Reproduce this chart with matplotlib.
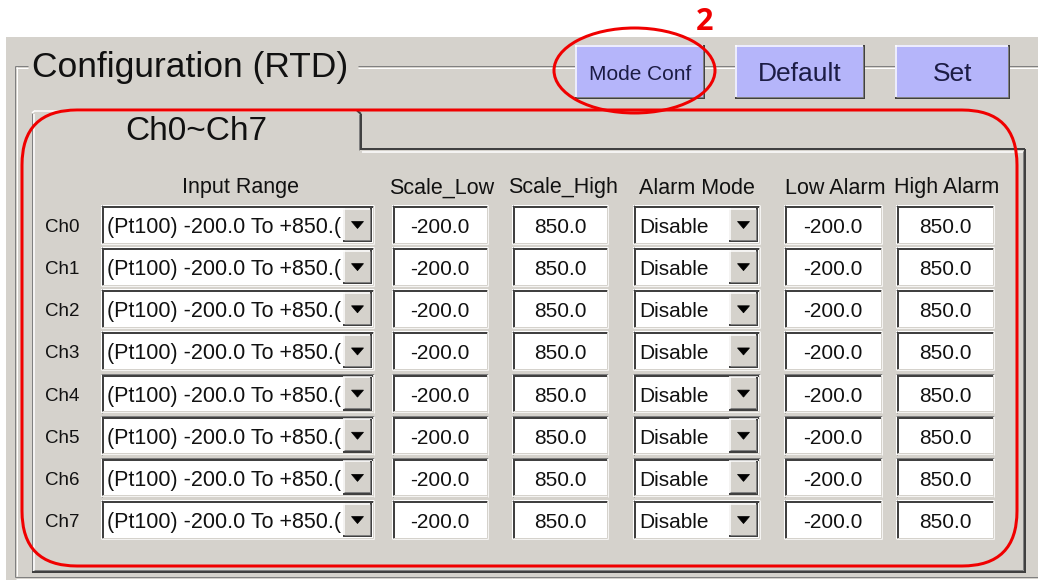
import matplotlib.pyplot as plt
import matplotlib.patches as patches

# dialog content
title = 'Configuration (RTD)'
tab_label = 'Ch0~Ch7'
buttons = ['Mode Conf', 'Default', 'Set']
headers = ['Input Range', 'Scale_Low', 'Scale_High', 'Alarm Mode', 'Low Alarm', 'High Alarm']
channels = ['Ch0', 'Ch1', 'Ch2', 'Ch3', 'Ch4', 'Ch5', 'Ch6', 'Ch7']
input_range = ['(Pt100) -200.0 To +850.(', '(Pt100) -200.0 To +850.(', '(Pt100) -200.0 To +850.(',
               '(Pt100) -200.0 To +850.(', '(Pt100) -200.0 To +850.(', '(Pt100) -200.0 To +850.(',
               '(Pt100) -200.0 To +850.(', '(Pt100) -200.0 To +850.(']
scale_low = [-200.0, -200.0, -200.0, -200.0, -200.0, -200.0, -200.0, -200.0]
scale_high = [850.0, 850.0, 850.0, 850.0, 850.0, 850.0, 850.0, 850.0]
alarm_mode = ['Disable', 'Disable', 'Disable', 'Disable', 'Disable', 'Disable', 'Disable', 'Disable']
low_alarm = [-200.0, -200.0, -200.0, -200.0, -200.0, -200.0, -200.0, -200.0]
high_alarm = [850.0, 850.0, 850.0, 850.0, 850.0, 850.0, 850.0, 850.0]
marker_label = '2'

# styles
BG = '#d5d2cc'
BTN = '#b5b5fa'
DARK = '#404040'
MID = '#808080'
PX = 0.72
FONT = ['Liberation Sans', 'DejaVu Sans']

fig = plt.figure(figsize=(10.38, 5.8), dpi=100)
ax = fig.add_axes([0, 0, 1, 1])
ax.set_xlim(0, 1038)
ax.set_ylim(580, 0)
ax.axis('off')


def line(xs, ys, color, w=1.0, z=2):
    ax.plot(xs, ys, color=color, lw=w * PX, solid_capstyle='butt', zorder=z)


def sunken(x0, y0, x1, y1):
    ax.add_patch(patches.Rectangle((x0, y0), x1 - x0, y1 - y0, fc='white', ec='none'))
    line([x0, x1], [y0 + 0.5, y0 + 0.5], MID)
    line([x0 + 0.5, x0 + 0.5], [y0, y1], MID)
    line([x0 + 1, x1 - 1], [y0 + 2, y0 + 2], DARK, 2)
    line([x0 + 2, x0 + 2], [y0 + 1, y1 - 1], DARK, 2)
    line([x0, x1], [y1 - 0.5, y1 - 0.5], '#f4f3f1')
    line([x1 - 0.5, x1 - 0.5], [y0, y1], '#f4f3f1')
    line([x0 + 1, x1 - 1], [y1 - 1.5, y1 - 1.5], BG)
    line([x1 - 1.5, x1 - 1.5], [y0 + 1, y1 - 1], BG)


def raised(x0, y0, x1, y1, fill, z=2):
    ax.add_patch(patches.Rectangle((x0, y0), x1 - x0, y1 - y0, fc=fill, ec='none', zorder=z))
    line([x0, x1], [y0 + 0.5, y0 + 0.5], 'white', 1.5, z)
    line([x0 + 0.5, x0 + 0.5], [y0, y1], 'white', 1.5, z)
    line([x0, x1], [y1 - 1, y1 - 1], DARK, 2, z)
    line([x1 - 1, x1 - 1], [y0, y1], DARK, 2, z)
    line([x0 + 1, x1 - 2], [y1 - 2.5, y1 - 2.5], MID, 1, z)
    line([x1 - 2.5, x1 - 2.5], [y0 + 1, y1 - 2], MID, 1, z)


def combo(x0, y0, x1, y1, text, btn_w, fs):
    sunken(x0, y0, x1, y1)
    bx0, bx1 = x1 - 3 - btn_w, x1 - 2
    cy = (y0 + y1) / 2
    ax.text(x0 + 6, cy + 3, text, ha='left', va='center', fontsize=fs, family=FONT, color='#111111')
    # drop button sits above the text so the overflowing text is hidden
    raised(bx0, y0 + 3, bx1, y1 - 2, BG, z=4)
    cx = (bx0 + bx1) / 2
    ax.add_patch(patches.Polygon([(cx - 6, cy - 3), (cx + 6, cy - 3), (cx, cy + 4)],
                                 closed=True, fc='black', ec='black', lw=0.5, zorder=5))


def edit(x0, y0, x1, y1, value):
    sunken(x0, y0, x1, y1)
    ax.text((x0 + x1) / 2, (y0 + y1) / 2 + 3, f'{value:.1f}', ha='center', va='center',
            fontsize=15, family=FONT, color='#111111')


# window background
ax.add_patch(patches.Rectangle((6, 37), 1032, 543, fc=BG, ec='none'))

# group box (etched)
gx0, gy0, gy1 = 15, 66, 577
line([gx0, gx0], [gy0, gy1], MID)
line([gx0 + 1.5, gx0 + 1.5], [gy0 + 1, gy1 - 1], 'white')
line([gx0, 28], [gy0, gy0], MID)
line([gx0 + 1, 28], [gy0 + 1.5, gy0 + 1.5], 'white')
line([358, 1038], [gy0, gy0], MID)
line([358, 1038], [gy0 + 1.5, gy0 + 1.5], 'white')
line([gx0, 1038], [gy1, gy1], MID)
line([gx0 + 1, 1038], [gy1 + 1.5, gy1 + 1.5], 'white')
ax.text(32, 68, title, ha='left', va='center', fontsize=25.5, family=FONT, color='#111111')

# buttons
btn_x = [(575, 705), (735, 865), (895, 1010)]
btn_fs = [15, 19, 19]
for (x0, x1), label, fs in zip(btn_x, buttons, btn_fs):
    raised(x0, 45, x1, 99, BTN)
    ax.text((x0 + x1) / 2, 74, label, ha='center', va='center', fontsize=fs, family=FONT, color='#1c1c44')

# tab page
tx0, ty0, tx1, ty1 = 32, 150, 1025, 572
line([tx0, tx0], [113, ty1], MID)
line([tx0 + 1.5, tx0 + 1.5], [114, ty1 - 1], 'white', 1.5)
line([tx0 + 3, 357], [110.5, 110.5], 'white', 1.5)
line([tx0, tx0 + 3], [113, 110.5], 'white', 1.5)
line([357, 361], [110.5, 114], DARK, 2)
line([361, 361], [114, ty0], DARK, 2)
line([359, 359], [114, ty0], MID)
line([361, tx1], [ty0 - 1, ty0 - 1], DARK, 2)
line([362, tx1 - 2], [ty0 + 1.5, ty0 + 1.5], 'white', 1.5)
line([tx1, tx1], [ty0 - 1, ty1], DARK, 2)
line([tx1 - 2.5, tx1 - 2.5], [ty0 + 1, ty1 - 2], MID)
line([tx0, tx1 + 1], [ty1, ty1], DARK, 2)
line([tx0 + 2, tx1 - 2], [ty1 - 2.5, ty1 - 2.5], MID)
ax.text(196, 132, tab_label, ha='center', va='center', fontsize=24, family=FONT, color='#111111')

# column headers
head_x = [241, 442, 563, 697, 835, 947]
for hx, h in zip(head_x, headers):
    ax.text(hx, 188, h, ha='center', va='center', fontsize=15.5, family=FONT, color='#111111')

# rows of controls
row_top = 205
row_step = 42.15
row_h = 39
for i, ch in enumerate(channels):
    y0 = row_top + i * row_step
    y1 = y0 + row_h
    ym = (y0 + y1) / 2
    ax.text(45, ym + 3, ch, ha='left', va='center', fontsize=13.5, family=FONT, color='#111111')
    combo(101, y0, 374, y1, input_range[i], 28, 15.5)
    edit(392, y0, 488, y1, scale_low[i])
    edit(512, y0, 608, y1, scale_high[i])
    combo(633, y0, 760, y1, alarm_mode[i], 28, 15)
    edit(784, y0, 882, y1, low_alarm[i])
    edit(896, y0, 994, y1, high_alarm[i])

# red annotations
ax.add_patch(patches.FancyBboxPatch((22, 110), 995, 456, boxstyle='round,pad=0,rounding_size=55',
                                    fc='none', ec='#f00000', lw=3 * PX, zorder=6))
ax.add_patch(patches.Ellipse((634.5, 70.5), 161, 85, fc='none', ec='#f00000', lw=3 * PX, zorder=6))
ax.text(705, 22, marker_label, ha='center', va='center', fontsize=22, fontweight='bold',
        family=['Open Sans', 'DejaVu Sans'], color='#f00000')

fig.savefig('out.png', dpi=100, facecolor='white')
